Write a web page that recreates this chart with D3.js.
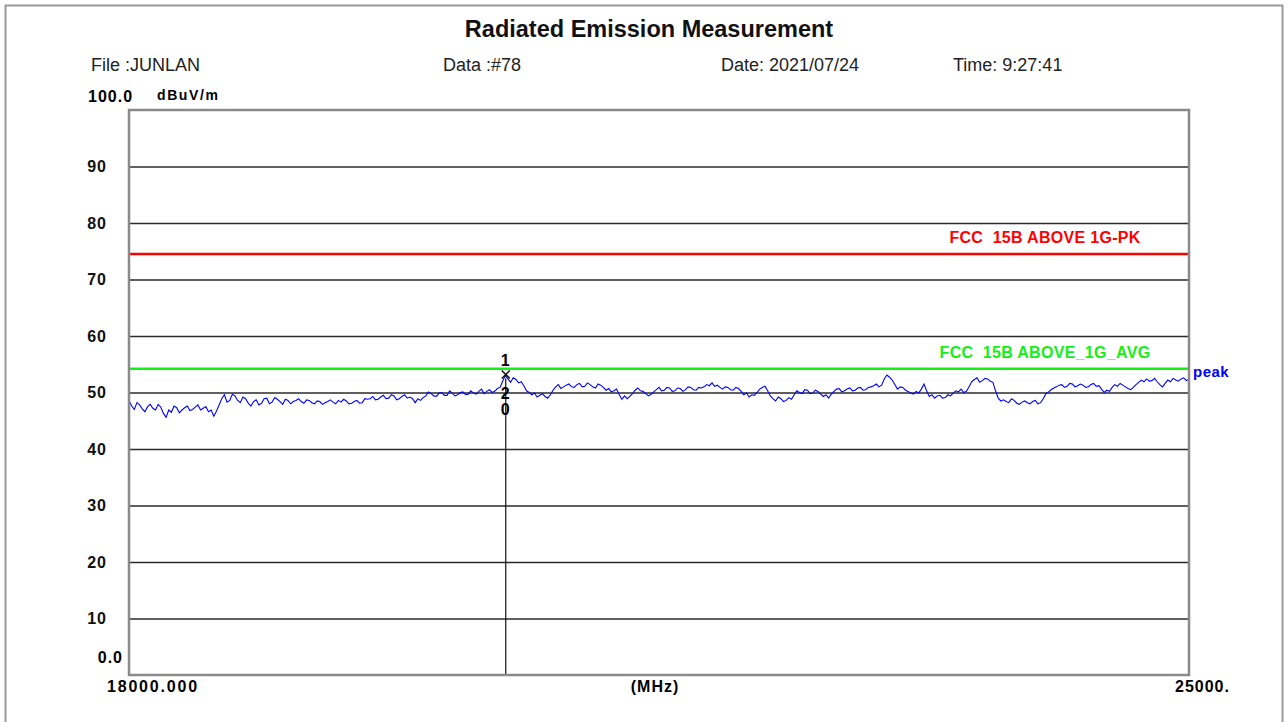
<!DOCTYPE html>
<html>
<head>
<meta charset="utf-8">
<script src="https://cdn.jsdelivr.net/npm/d3@7"></script>
<style>
  body { margin: 0; background: #fff; }
  text { font-family: "Liberation Sans", Arial, sans-serif; }
  .lbl { font-weight: bold; font-size: 16px; letter-spacing: 1px; white-space: pre; }
</style>
</head>
<body>
<div id="chart-area"></div>
<script>
const startFreq = 18000
const stopFreq = 25000
const levels = [
  48.6, 47.6, 47.0, 48.2, 47.8, 47.1, 46.6, 47.5, 47.9, 47.2, 46.9, 47.9, 47.4, 46.3, 45.6, 46.9,
  46.5, 47.6, 47.3, 46.4, 46.9, 47.3, 47.6, 46.8, 47.0, 47.4, 47.8, 46.9, 47.2, 47.5, 46.6, 46.9, 45.8, 46.7,
  47.8, 48.9, 49.6, 48.3, 48.6, 49.7,
  49.4, 48.6, 48.2, 49.2, 48.9, 48.1, 47.6, 48.4, 48.7, 47.8, 48.1, 48.9, 49.0, 48.0, 48.3, 49.1, 48.8, 48.4, 47.9, 48.8, 48.6, 48.0, 48.4, 48.6, 48.9, 48.4,
  48.1, 48.7, 48.6, 48.2, 48.0, 48.5, 48.4, 47.9, 48.2, 48.4, 48.7, 48.3, 48.0, 48.6, 48.3, 48.8, 48.5, 48.0, 48.1, 48.4, 48.6, 48.1, 48.2, 48.9, 48.8, 48.9,
  49.3, 48.7, 48.8, 49.2, 49.5, 48.9, 49.0, 49.6, 49.4, 48.7, 48.9, 49.3, 49.6, 49.0, 49.2, 48.9,
  48.2, 48.9, 48.6, 49.1,
  49.4, 50.1, 49.8, 49.4, 49.3, 49.9, 50.0, 49.5, 49.5, 50.3, 49.9, 49.4, 49.6, 50.0, 50.1, 49.6, 49.7, 50.3, 49.9, 49.7, 50.2, 50.6, 49.8, 50.2,
  50.5, 50.0, 50.2, 50.7, 50.9, 52.0, 53.0, 52.4, 51.8, 52.6, 52.3, 51.7, 51.9, 51.2, 50.3, 50.0,
  49.6, 49.9, 49.2, 49.5, 49.8, 49.3, 49.0, 49.6,
  50.4, 51.0, 51.4, 50.7, 51.0, 51.3,
  51.5, 51.0, 50.9, 51.4, 51.6, 51.0, 51.1, 51.7, 51.4, 51.0, 50.8, 51.5, 51.3, 50.9,
  50.4, 50.7, 50.1, 50.3, 50.6, 49.6, 48.8, 49.4, 48.9, 49.3,
  49.8, 50.4, 50.8, 50.3, 50.2, 49.8, 49.4, 49.7, 50.1, 50.5,
  50.9, 50.3, 50.4, 50.9, 50.8, 50.2, 50.3, 50.8, 50.7, 50.2, 50.5, 51.0, 50.9, 50.5, 50.4, 50.9, 50.8, 51.0,
  51.4, 51.2, 51.7, 51.1, 51.3, 50.9,
  50.6, 51.0, 50.9, 50.5, 50.4, 50.9, 50.7, 50.2,
  49.6, 49.9, 49.2, 49.6, 49.5, 50.0, 50.6, 50.9, 51.1, 50.3,
  49.4, 48.9, 48.5, 49.2, 48.9, 48.4, 48.6, 49.1, 48.8, 49.6,
  50.3, 50.0, 49.8, 50.5, 50.4, 49.8, 49.9, 50.4, 50.2, 49.7, 49.3, 49.6, 49.0, 49.7,
  50.2, 50.6, 50.7, 50.1, 50.3, 50.6, 50.8, 50.3, 50.4, 50.8, 50.9, 50.4, 50.5, 50.9, 51.0, 51.2,
  51.5, 51.0, 51.3, 52.4, 53.1, 52.7, 52.2, 51.4,
  50.6, 51.0, 50.9, 50.4, 50.2, 49.9, 49.7, 50.2, 49.9, 50.6, 51.5, 50.3,
  49.3, 49.6, 49.0, 49.4, 49.5, 49.0, 49.1, 49.6, 49.4, 49.9,
  50.3, 50.1, 50.6, 50.0, 50.2, 51.0,
  51.9, 52.3, 52.6, 51.8, 52.1, 52.5, 52.4, 52.0, 51.8, 50.3, 49.0, 48.5,
  48.7, 48.4, 48.2, 48.9, 48.6, 48.1, 47.9, 48.3, 48.5, 48.2, 48.0, 48.4, 48.6, 48.0, 48.2, 48.9,
  49.8, 50.1, 50.5, 50.8,
  51.0, 51.3, 51.4, 50.9, 51.1, 51.6, 51.5, 51.0, 51.2, 51.5, 51.3, 50.9, 51.0, 51.4, 51.6, 51.1, 51.2, 50.6,
  50.0, 50.4, 50.2, 50.9, 51.4, 51.1, 51.6, 51.3, 51.0, 50.7, 50.5, 50.9,
  51.4, 51.8, 52.2, 51.9, 52.4, 52.0, 52.1, 52.5, 51.9, 51.4, 51.0, 51.6,
  52.2, 51.9, 52.5, 52.2, 52.0, 52.4, 52.6, 52.1, 52.4
]

// limit lines
const limitNames = ["FCC  15B ABOVE 1G-PK", "FCC  15B ABOVE_1G_AVG"]
const limitValues = [74.5, 54.2]
const limitColors = ["#ff0000", "#14f014"]

// markers
const markerNo = [1]
const markerFreq = [20488]
const markerLevel = [53.2]

const yTicks = [10, 20, 30, 40, 50, 60, 70, 80, 90]

const headerTexts = ["File :JUNLAN", "Data :#78", "Date: 2021/07/24", "Time: 9:27:41"]
const headerX = [91, 443, 721, 953]

const W = 1288, H = 722
const PLOT = { LEFT: 129, RIGHT: 1189, TOP: 110, BOTTOM: 675 }

const svg = d3.select("#chart-area").append("svg")
    .attr("width", W)
    .attr("height", H)

// page frame
svg.append("rect")
    .attr("x", 5.5).attr("y", 5.5)
    .attr("width", 1277).attr("height", 800)
    .attr("fill", "none")
    .attr("stroke", "#9a9a9a")
    .attr("stroke-width", 2)

// scales
const x = d3.scaleLinear().domain([startFreq, stopFreq]).range([PLOT.LEFT, PLOT.RIGHT])
const y = d3.scaleLinear().domain([0, 100]).range([PLOT.BOTTOM, PLOT.TOP])

// title + header
svg.append("text")
    .attr("x", 649).attr("y", 37)
    .attr("text-anchor", "middle")
    .style("font-weight", "bold")
    .style("font-size", "23.5px")
    .attr("fill", "#111")
    .text("Radiated Emission Measurement")

svg.selectAll(".hdr")
    .data(headerTexts)
    .enter().append("text")
        .attr("class", "hdr")
        .attr("x", (d, i) => headerX[i])
        .attr("y", 71)
        .style("font-size", "18px")
        .attr("fill", "#222")
        .text(d => d)

// grid + y labels
const yAxisCall = d3.axisLeft(y)
    .tickValues(yTicks)
    .tickSize(-(PLOT.RIGHT - PLOT.LEFT))
    .tickPadding(22)
    .tickFormat(d3.format("d"))

const yAxis = svg.append("g")
    .attr("transform", `translate(${PLOT.LEFT},0)`)
    .call(yAxisCall)
yAxis.select(".domain").remove()
yAxis.selectAll("line")
    .attr("stroke", "#2a2a2a")
    .attr("stroke-width", 1.5)
yAxis.selectAll("text")
    .attr("class", "lbl")
    .attr("fill", "#111")
    .style("font-family", "'Liberation Sans', Arial, sans-serif")

svg.append("text")
    .attr("class", "lbl")
    .attr("x", 123).attr("y", y(0) - 12)
    .attr("text-anchor", "end")
    .text("0.0")
svg.append("text")
    .attr("class", "lbl")
    .attr("x", 88).attr("y", y(100) - 8)
    .text("100.0")
svg.append("text")
    .attr("class", "lbl")
    .attr("x", 157).attr("y", y(100) - 10)
    .style("font-size", "14px")
    .style("letter-spacing", "1.6px")
    .text("dBuV/m")

// x labels
svg.append("text")
    .attr("class", "lbl")
    .attr("x", x(startFreq) - 22).attr("y", PLOT.BOTTOM + 17)
    .style("letter-spacing", "1.8px")
    .text(d3.format(".3f")(startFreq))
svg.append("text")
    .attr("class", "lbl")
    .attr("x", x(stopFreq) - 14).attr("y", PLOT.BOTTOM + 17)
    .text(stopFreq + ".")
svg.append("text")
    .attr("class", "lbl")
    .attr("x", 655).attr("y", PLOT.BOTTOM + 17)
    .attr("text-anchor", "middle")
    .text("(MHz)")

// limit lines
const limits = svg.append("g").attr("class", "limits")
limits.selectAll("line")
    .data(limitValues)
    .enter().append("line")
        .attr("x1", PLOT.LEFT).attr("x2", PLOT.RIGHT)
        .attr("y1", d => y(d)).attr("y2", d => y(d))
        .attr("stroke", (d, i) => limitColors[i])
        .attr("stroke-width", 2.5)
limits.selectAll("text")
    .data(limitValues)
    .enter().append("text")
        .attr("class", "lbl")
        .attr("x", 1045)
        .attr("y", d => y(d) - 11)
        .attr("text-anchor", "middle")
        .style("letter-spacing", "0.3px")
        .attr("fill", (d, i) => limitColors[i])
        .text((d, i) => limitNames[i])

// trace
const step = (stopFreq - startFreq) / (levels.length - 1)
const trace = levels.map((v, i) => ({ freq: startFreq + i * step, level: v }))

const line = d3.line()
    .x(d => x(d.freq))
    .y(d => y(d.level))

svg.append("path")
    .attr("class", "line")
    .attr("fill", "none")
    .attr("stroke", "#0000ff")
    .attr("stroke-width", 1.1)
    .attr("d", line(trace))

svg.append("text")
    .attr("class", "lbl")
    .attr("x", PLOT.RIGHT + 4)
    .attr("y", y(levels[levels.length - 1]) - 2)
    .style("font-size", "15px")
    .style("letter-spacing", "0.5px")
    .attr("fill", "#0000ff")
    .text("peak")

// marker
const mk = svg.append("g").attr("class", "marker")
markerFreq.forEach((f, i) => {
    const mx = x(f), my = y(markerLevel[i])
    mk.append("line")
        .attr("x1", mx).attr("x2", mx)
        .attr("y1", my + 4).attr("y2", PLOT.BOTTOM)
        .attr("stroke", "#111").attr("stroke-width", 1.2)
    mk.append("path")
        .attr("d", `M${mx - 4},${my - 4}L${mx + 4},${my + 4}M${mx - 4},${my + 4}L${mx + 4},${my - 4}`)
        .attr("stroke", "#111").attr("stroke-width", 1.5)
    mk.append("text")
        .attr("class", "lbl")
        .attr("x", mx).attr("y", my - 8)
        .attr("text-anchor", "middle")
        .text(markerNo[i])
    mk.append("text")
        .attr("class", "lbl")
        .attr("x", mx).attr("y", my + 25)
        .attr("text-anchor", "middle")
        .text(markerNo[i] + 1)
    mk.append("text")
        .attr("class", "lbl")
        .attr("x", mx).attr("y", my + 41)
        .attr("text-anchor", "middle")
        .text("0")
})

// plot frame
svg.append("rect")
    .attr("x", PLOT.LEFT).attr("y", PLOT.TOP)
    .attr("width", PLOT.RIGHT - PLOT.LEFT)
    .attr("height", PLOT.BOTTOM - PLOT.TOP)
    .attr("fill", "none")
    .attr("stroke", "#8a8a8a")
    .attr("stroke-width", 2.5)
</script>
</body>
</html>
